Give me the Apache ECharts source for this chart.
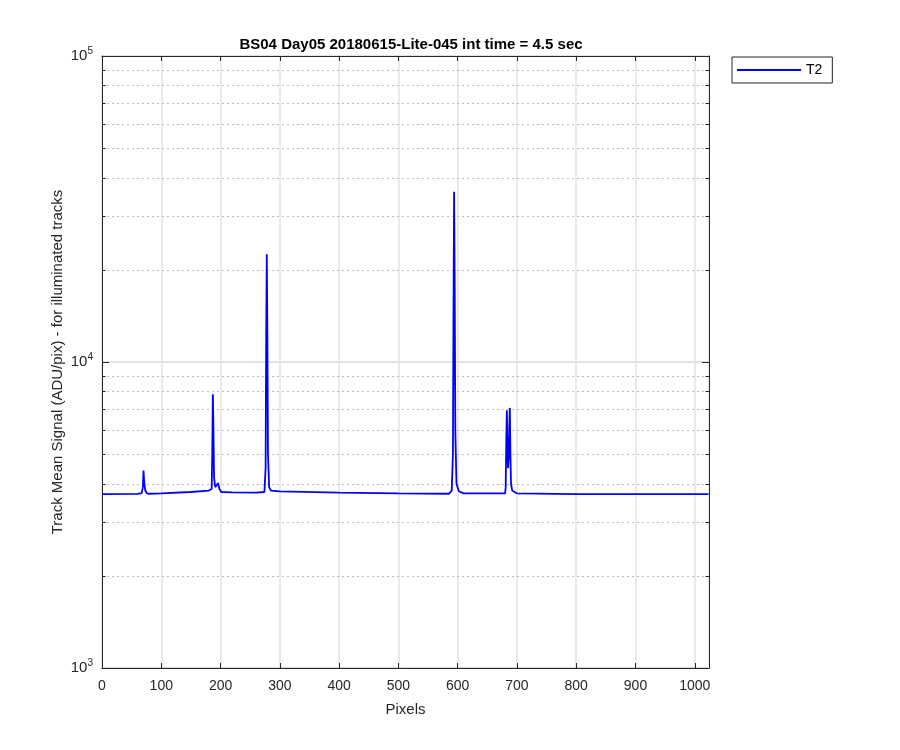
<!DOCTYPE html>
<html>
<head>
<meta charset="utf-8">
<script src="https://cdn.jsdelivr.net/npm/echarts@6/dist/echarts.min.js"></script>
<style>html,body{margin:0;padding:0;background:#fff}#c{width:900px;height:750px}</style>
</head>
<body>
<div id="c"></div>
<script>
// Data (pixel index, mean signal)
const pixels = [0, 60, 67, 69, 70, 71, 73, 76, 80, 100, 150, 180, 185, 186, 187, 188, 189, 191, 194, 196, 198, 201, 220, 260, 274, 276, 277, 278, 279, 280, 282, 285, 300, 400, 500, 585, 590, 592, 593, 594, 595, 596, 598, 602, 610, 680, 681, 682, 683, 684, 685, 686, 687, 688, 689, 690, 692, 700, 800, 900, 1023];
const signalT2 = [3700, 3705, 3730, 3900, 4420, 4100, 3800, 3720, 3710, 3720, 3760, 3800, 3850, 5000, 7850, 6000, 4200, 3900, 3900, 4020, 3850, 3760, 3750, 3740, 3760, 4500, 12000, 22500, 12000, 5000, 3900, 3800, 3780, 3740, 3720, 3710, 3800, 5000, 15000, 36000, 18000, 6000, 4000, 3780, 3720, 3720, 3900, 5500, 6960, 5000, 4500, 4800, 6000, 7080, 5000, 4000, 3800, 3720, 3700, 3700, 3700];
const seriesName = 'T2';
const titleText = 'BS04 Day05 20180615-Lite-045 int time = 4.5 sec';
const xName = 'Pixels';
const yName = 'Track Mean Signal (ADU/pix) - for illuminated tracks';
const xMin = 0, xMax = 1024, xStep = 100;
const yMin = 1000, yMax = 100000;
const minorMultipliers = [2, 3, 4, 5, 6, 7, 8, 9];

const data = pixels.map((p, i) => [p, signalT2[i]]);
const minorValues = [];
for (let d = yMin; d < yMax; d *= 10) minorMultipliers.forEach(m => minorValues.push(m * d));

const axisColor = '#262626';
const font = 'Liberation Sans, Arial, Helvetica, sans-serif';

const chart = echarts.init(document.getElementById('c'));
chart.setOption({
  animation: false,
  backgroundColor: '#fff',
  textStyle: { fontFamily: font },
  title: {
    text: titleText, left: 406, top: 32, textAlign: 'center',
    textStyle: { fontFamily: font, fontWeight: 'bold', fontSize: 15, color: '#000' }
  },
  legend: {
    left: 732, top: 57, orient: 'vertical',
    data: [{ name: seriesName, icon: 'rect' }],
    borderColor: axisColor, borderWidth: 1, borderRadius: 0,
    padding: [6, 10, 6, 5], backgroundColor: '#fff',
    itemWidth: 64, itemHeight: 2, itemGap: 4,
    textStyle: { fontFamily: font, fontSize: 14, color: '#000', padding: [0, 0, 0, 0] }
  },
  grid: { left: 102, right: 191, top: 56, bottom: 82, containLabel: false },
  xAxis: [{
    type: 'value', min: xMin, max: xMax, interval: xStep,
    name: xName, nameLocation: 'middle', nameGap: 34,
    nameTextStyle: { fontFamily: font, fontSize: 15, color: axisColor },
    axisLine: { show: true, onZero: false, lineStyle: { color: axisColor, width: 1 } },
    axisTick: { show: true, inside: true, length: 5, lineStyle: { color: axisColor } },
    axisLabel: { fontFamily: font, fontSize: 14, color: axisColor, margin: 11,
      formatter: v => (v % xStep === 0 ? String(v) : '') },
    splitLine: { show: true, lineStyle: { color: '#e3e3e3', width: 1.5 } }
  }, {
    type: 'value', position: 'top', min: xMin, max: xMax, interval: xStep,
    axisLine: { show: true, onZero: false, lineStyle: { color: axisColor, width: 1 } },
    axisTick: { show: true, inside: true, length: 5, lineStyle: { color: axisColor } },
    axisLabel: { show: false }, splitLine: { show: false }
  }],
  yAxis: [{
    type: 'log', logBase: 10, min: yMin, max: yMax,
    name: yName, nameLocation: 'middle', nameGap: 37, nameRotate: 90,
    nameMoveOverlap: false,
    nameTextStyle: { fontFamily: font, fontSize: 15, color: axisColor },
    axisLine: { show: true, onZero: false, lineStyle: { color: axisColor, width: 1 } },
    axisTick: { show: true, inside: true, length: 7, lineStyle: { color: axisColor } },
    axisLabel: {
      margin: 9, color: axisColor,
      formatter: v => '{b|10}{s|' + Math.round(Math.log10(v)) + '}',
      rich: {
        b: { fontFamily: font, fontSize: 15, color: axisColor },
        s: { fontFamily: font, fontSize: 10, color: axisColor, padding: [0, 0, 10, 0] }
      }
    },
    splitLine: { show: true, lineStyle: { color: '#d8d8d8', width: 1.5 } }
  }, {
    type: 'log', logBase: 10, min: yMin, max: yMax, position: 'right',
    axisLine: { show: true, onZero: false, lineStyle: { color: axisColor, width: 1 } },
    axisTick: { show: true, inside: true, length: 7, lineStyle: { color: axisColor } },
    axisLabel: { show: false }, splitLine: { show: false }
  }],
  series: [{
    name: seriesName, type: 'line', data: data, showSymbol: false, symbol: 'none',
    xAxisIndex: 0, yAxisIndex: 0, z: 5,
    lineStyle: { color: '#0000ff', width: 1.8 }, itemStyle: { color: '#0000ff' },
    markLine: {
      silent: true, symbol: 'none', animation: false,
      label: { show: false },
      lineStyle: { color: '#bdbdbd', type: [2, 3], width: 1 },
      data: minorValues.map(v => ({ yAxis: v }))
    }
  }, {
    name: 'minorTicks', type: 'line', data: [], xAxisIndex: 0, yAxisIndex: 0,
    markLine: {
      silent: true, symbol: 'none', animation: false,
      label: { show: false },
      lineStyle: { color: axisColor, type: 'solid', width: 1 },
      data: minorValues.flatMap(v => [
        [{ coord: [xMin, v] }, { coord: [xMin + 6, v] }],
        [{ coord: [xMax - 6, v] }, { coord: [xMax, v] }]
      ])
    }
  }]
});
</script>
</body>
</html>
